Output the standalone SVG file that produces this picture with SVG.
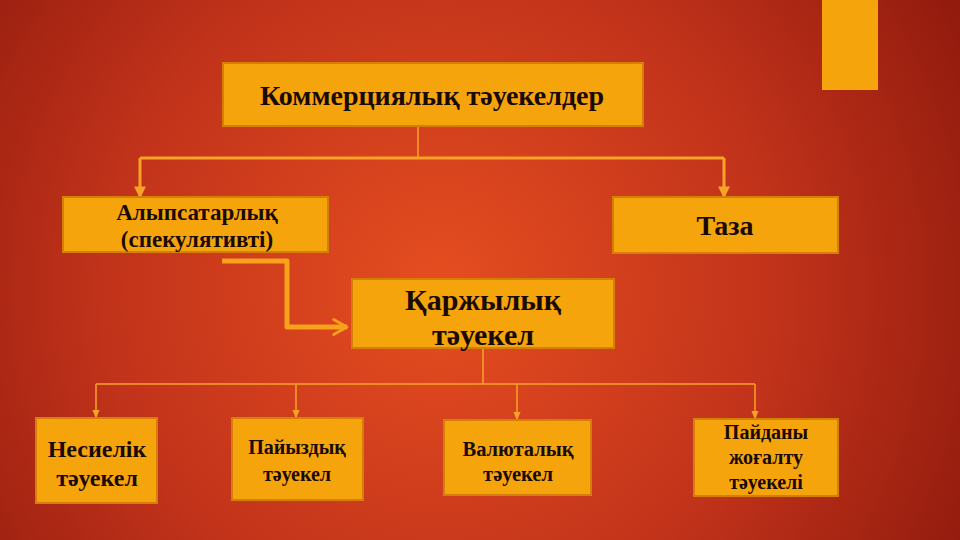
<svg xmlns="http://www.w3.org/2000/svg" width="960" height="540" viewBox="0 0 960 540">
<defs>
<radialGradient id="bg" cx="440" cy="290" r="620" gradientUnits="userSpaceOnUse">
<stop offset="0" stop-color="#E64E20"/>
<stop offset="0.55" stop-color="#C0321A"/>
<stop offset="1" stop-color="#8C180C"/>
</radialGradient>
<marker id="ah" viewBox="0 0 10 10" refX="8" refY="5" markerWidth="4" markerHeight="4" orient="auto" markerUnits="strokeWidth">
<path d="M0,0 L10,5 L0,10 Z" fill="#F7A328"/>
</marker>
<marker id="ahs" viewBox="0 0 10 10" refX="8" refY="5" markerWidth="6" markerHeight="6" orient="auto" markerUnits="strokeWidth">
<path d="M0,1 L10,5 L0,9 Z" fill="#F7A328"/>
</marker>
<marker id="chev" viewBox="0 0 12 12" refX="10" refY="6" markerWidth="4" markerHeight="4" orient="auto" markerUnits="strokeWidth">
<path d="M2,1.5 L10,6 L2,10.5" fill="none" stroke="#F7A21B" stroke-width="1.6" stroke-linecap="round" stroke-linejoin="round"/>
</marker>
</defs>
<style>
.box{fill:#F5A40C;stroke:#D47F08;stroke-width:2}
.t{font-family:"Liberation Serif","DejaVu Serif",serif;font-weight:bold;fill:#1A0A04;text-anchor:middle}
.c{fill:none;stroke:#F7A328}
</style>
<rect width="960" height="540" fill="url(#bg)"/>
<rect x="822" y="0" width="56" height="90" fill="#F5A40C"/>

<g id="connectors">
<path class="c" stroke-width="1.5" d="M418,126 V158"/>
<path class="c" stroke-width="3" d="M140,158 H724"/>
<path class="c" stroke-width="3" marker-end="url(#ah)" d="M140,158 V196"/>
<path class="c" stroke-width="3" marker-end="url(#ah)" d="M724,158 V196"/>
<path stroke="#F7A21B" fill="none" stroke-width="5" stroke-linejoin="round" marker-end="url(#chev)" d="M222,261 H287 V327 H347"/>
<path class="c" stroke-width="1.5" d="M483,348 V384"/>
<path class="c" stroke-width="1.5" d="M96,384 H755"/>
<path class="c" stroke-width="1.5" marker-end="url(#ahs)" d="M96,384 V417"/>
<path class="c" stroke-width="1.5" marker-end="url(#ahs)" d="M296,384 V417"/>
<path class="c" stroke-width="1.5" marker-end="url(#ahs)" d="M517,384 V419"/>
<path class="c" stroke-width="1.5" marker-end="url(#ahs)" d="M755,384 V418"/>
</g>

<g id="n-commercial">
<rect class="box" x="223" y="63" width="420" height="63"/>
<text class="t" x="432" y="105" font-size="28">Коммерциялық тәуекелдер</text>
</g>
<g id="n-speculative">
<rect class="box" x="63" y="197" width="265" height="55"/>
<text class="t" x="197" y="220" font-size="23">Алыпсатарлық</text>
<text class="t" x="197" y="247" font-size="23">(спекулятивті)</text>
</g>
<g id="n-pure">
<rect class="box" x="613" y="197" width="225" height="56"/>
<text class="t" x="725" y="235" font-size="28">Таза</text>
</g>
<g id="n-financial">
<rect class="box" x="352" y="279" width="262" height="69"/>
<text class="t" x="483" y="310" font-size="30">Қаржылық</text>
<text class="t" x="483" y="345" font-size="30">тәуекел</text>
</g>
<g id="n-credit">
<rect class="box" x="36" y="418" width="121" height="85"/>
<text class="t" x="97" y="457" font-size="24">Несиелік</text>
<text class="t" x="97" y="486" font-size="24">тәуекел</text>
</g>
<g id="n-interest">
<rect class="box" x="232" y="418" width="131" height="82"/>
<text class="t" x="297" y="454" font-size="20">Пайыздық</text>
<text class="t" x="297" y="481" font-size="20">тәуекел</text>
</g>
<g id="n-currency">
<rect class="box" x="444" y="420" width="147" height="75"/>
<text class="t" x="518" y="456" font-size="20.5">Валюталық</text>
<text class="t" x="518" y="481" font-size="20.5">тәуекел</text>
</g>
<g id="n-profit">
<rect class="box" x="694" y="419" width="144" height="77"/>
<text class="t" x="766" y="439" font-size="20">Пайданы</text>
<text class="t" x="766" y="464" font-size="20">жоғалту</text>
<text class="t" x="766" y="489" font-size="20">тәуекелі</text>
</g>
</svg>
